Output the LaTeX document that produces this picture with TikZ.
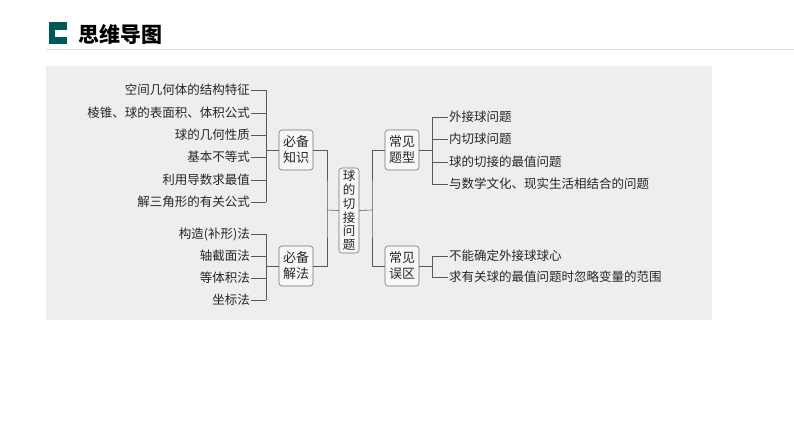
\documentclass[tikz,border=0pt]{standalone}
\usepackage{fontspec}
\newfontfamily\cjk{Noto Sans CJK SC}
\begin{document}
\begin{tikzpicture}[x=1pt,y=-1pt,
  txt/.style={font=\cjk\fontsize{12.5}{14}\selectfont, inner sep=1pt, text=black!85},
  box/.style={draw=black!55, rounded corners=3pt, fill=black!3, font=\cjk\fontsize{13}{16}\selectfont, align=center, inner sep=1pt, line width=0.6pt, text=black!85},
  ln/.style={draw=black!65, line width=0.6pt}]
\useasboundingbox (0,0) rectangle (794,447);
\fill[white] (0,0) rectangle (794,447);
\fill[black!6.5] (46,66) rectangle (712,320);
\draw[black!12, line width=0.6pt] (46,49) -- (794,49);
\fill[teal!70!black] (49,22) rectangle (67,44);
\fill[white] (55,30) rectangle (67,37);
\node[anchor=west, font=\cjk\bfseries\fontsize{21}{24}\selectfont, inner sep=0pt] (title) at (78,34) {思维导图};
% center
\node[box, minimum width=20pt, minimum height=85pt, text width=13pt, inner sep=0.5pt, font=\cjk\fontsize{12.5}{13.8}\selectfont] (c) at (349,210.5) {球\\的\\切\\接\\问\\题};
\node[box, minimum width=34pt, minimum height=40pt] (k) at (296,150) {必备\\知识};
\node[box, minimum width=34pt, minimum height=40pt] (m) at (296,266) {必备\\解法};
\node[box, minimum width=34pt, minimum height=40pt] (t) at (402,150) {常见\\题型};
\node[box, minimum width=34pt, minimum height=40pt] (e) at (402,266) {常见\\误区};
\coordinate (lj) at (327,210);
\coordinate (rj) at (372,210);
\draw[ln] (c.west) -- (lj); \draw[ln] (c.east) -- (rj);
\draw[ln] (k.east) -| (lj) |- (m.east);
\draw[ln] (t.west) -| (rj) |- (e.west);
% left items
\foreach \n/\y/\s in {a1/90/空间几何体的结构特征,a2/113/{棱锥、球的表面积、体积公式},a3/135/球的几何性质,a4/157/基本不等式,a5/180/利用导数求最值,a6/202/解三角形的有关公式}{
  \node[txt, anchor=east] (\n) at (251,\y) {\s};
  \draw[ln] (\n.east) -- (266,\y);
}
\draw[ln] (266,90) -- (266,202);
\draw[ln] (266,150) -- (k.west);
\foreach \n/\y/\s in {b1/234/构造(补形)法,b2/256/轴截面法,b3/278/等体积法,b4/300/坐标法}{
  \node[txt, anchor=east] (\n) at (251,\y) {\s};
  \draw[ln] (\n.east) -- (266,\y);
}
\draw[ln] (266,234) -- (266,300);
\draw[ln] (266,266) -- (m.west);
% right items
\foreach \n/\y/\s in {r1/117/外接球问题,r2/139/内切球问题,r3/162/球的切接的最值问题,r4/184/{与数学文化、现实生活相结合的问题}}{
  \node[txt, anchor=west] (\n) at (448,\y) {\s};
  \draw[ln] (432,\y) -- (\n.west);
}
\draw[ln] (432,117) -- (432,184);
\draw[ln] (t.east) -- (432,150);
\foreach \n/\y/\s in {s1/256/不能确定外接球球心,s2/277/求有关球的最值问题时忽略变量的范围}{
  \node[txt, anchor=west] (\n) at (448,\y) {\s};
  \draw[ln] (432,\y) -- (\n.west);
}
\draw[ln] (432,256) -- (432,277);
\draw[ln] (e.east) -- (432,266);
\end{tikzpicture}
\end{document}
